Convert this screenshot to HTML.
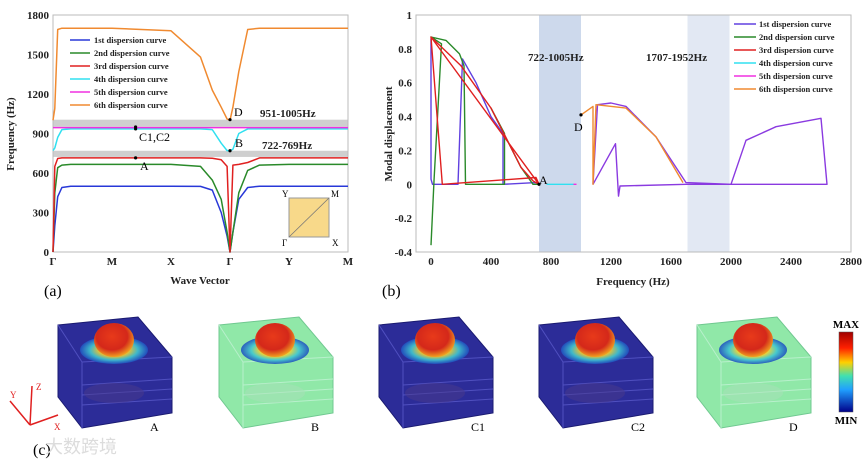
<!DOCTYPE html>
<html><head><meta charset="utf-8"><style>
html,body{margin:0;padding:0;background:#fff;}
svg{display:block;font-family:"Liberation Serif","Noto Serif CJK SC",serif;}
.tk{font-size:11px;font-weight:bold;fill:#222;}
.lg{font-size:8.5px;font-weight:bold;fill:#222;}
</style></head><body>
<svg id="fig" width="865" height="463" viewBox="0 0 865 463" xmlns="http://www.w3.org/2000/svg">
<defs>
<radialGradient id="redBlob" cx="0.45" cy="0.4" r="0.6"><stop offset="0" stop-color="#e83a1a"/><stop offset="0.65" stop-color="#d4281a"/><stop offset="1" stop-color="#f0a020"/></radialGradient>
<radialGradient id="ringBlob" cx="0.5" cy="0.5" r="0.5"><stop offset="0.45" stop-color="#f2d030"/><stop offset="0.7" stop-color="#40c8d0"/><stop offset="1" stop-color="#2050c0"/></radialGradient>
<linearGradient id="cbar" x1="0" y1="0" x2="0" y2="1"><stop offset="0" stop-color="#a00000"/><stop offset="0.2" stop-color="#ff2000"/><stop offset="0.38" stop-color="#ffd000"/><stop offset="0.55" stop-color="#40e0b0"/><stop offset="0.72" stop-color="#20a0ff"/><stop offset="1" stop-color="#00008a"/></linearGradient>
</defs>
<g id="chartA"></g>
<g id="chartB"></g>
<g id="cubes"></g>
</svg>
<script>
const NS="http://www.w3.org/2000/svg";
function mk(parent,tag,attrs,text){const e=document.createElementNS(NS,tag);for(const k in attrs)e.setAttribute(k,attrs[k]);if(text!==undefined)e.textContent=text;parent.appendChild(e);return e;}

// ---------- Chart (a) data ----------
const kPoints=[0,0.03,0.08,0.15,0.3,1,2,2.5,2.7,2.85,2.95,3,3.05,3.15,3.3,3.5,4,5];
const curve1=[0,200,420,490,500,500,500,498,470,300,120,0,150,400,490,500,500,500];
const curve2=[0,450,640,660,665,665,665,650,546,400,150,0,150,450,620,660,665,665];
const curve3=[0,650,710,715,715,715,715,715,712,700,650,0,660,665,680,715,715,715];
const curve4=[770,790,870,930,935,935,935,935,930,826,770,770,780,900,935,935,935,935];
const curve5=[945,945,945,945,945,945,945,945,945,945,945,945,945,945,945,945,945,945];
const curve6=[1000,1090,1690,1700,1700,1700,1680,1480,1230,1100,1010,1000,1100,1370,1690,1700,1700,1700];
const kLabels=["Γ","M","X","Γ","Y","M"];
const freqTicks=[0,300,600,900,1200,1500,1800];
const bandsA=[[951,1005],[722,769]];
const legendNames=["1st dispersion curve","2nd dispersion curve","3rd dispersion curve","4th dispersion curve","5th dispersion curve","6th dispersion curve"];
const colorsA=["#2838d8","#2a8a2a","#e02020","#30e0f0","#f030e0","#f08a30"];

const ax={x0:53,x1:348,y0:252,y1:15};
const kx=k=>ax.x0+k*(ax.x1-ax.x0)/5;
const fy=f=>ax.y0-f*(ax.y0-ax.y1)/1800;
(function(){
const g=document.getElementById('chartA');
bandsA.forEach((b,i)=>{const r=mk(g,'rect',{x:ax.x0,y:fy(b[1]),width:ax.x1-ax.x0,height:fy(b[0])-fy(b[1]),fill:'#cfcfcf'});

});
const fr=mk(g,'rect',{x:ax.x0,y:ax.y1,width:ax.x1-ax.x0,height:ax.y0-ax.y1,fill:'none',stroke:'#bbb','stroke-width':1});


freqTicks.forEach(t=>{const tx=mk(g,'text',{x:ax.x0-4,y:fy(t)+4,'text-anchor':'end',class:'tk'},t);

});
kLabels.forEach((l,i)=>{const tx=mk(g,'text',{x:kx(i),y:265,'text-anchor':'middle',class:'tk'},l);

});
const series=[curve1,curve2,curve3,curve4,curve5,curve6];
series.forEach((s,i)=>{const d=s.map((v,j)=>(j?'L':'M')+kx(kPoints[j]).toFixed(1)+','+fy(v).toFixed(1)).join('');
const p=mk(g,'path',{d:d,fill:'none',stroke:colorsA[i],'stroke-width':1.5,'stroke-linejoin':'round'});

});
legendNames.forEach((n,i)=>{const y=40+i*13;
const l=mk(g,'line',{x1:70,x2:90,y1:y,y2:y,stroke:colorsA[i],'stroke-width':1.5});


const t=mk(g,'text',{x:94,y:y+3,class:'lg'},n);

});
const yt=mk(g,'text',{x:14,y:134,'text-anchor':'middle',class:'tk',transform:'rotate(-90 14 134)'},'Frequency (Hz)');


const xt=mk(g,'text',{x:200,y:284,'text-anchor':'middle',class:'tk'},'Wave Vector');


const pa=mk(g,'text',{x:44,y:296,'font-size':16},'(a)');


[[3,1005],[3,769],[1.4,950],[1.4,935],[1.4,715]].forEach(p=>{const c=mk(g,'circle',{cx:kx(p[0]),cy:fy(p[1]),r:1.6,fill:'#000'});

});
[[234,116,'D'],[235,147,'B'],[139,141,'C1,C2'],[140,170,'A']].forEach(a=>{const t=mk(g,'text',{x:a[0],y:a[1],'font-size':12},a[2]);

});
const b1=mk(g,'text',{x:260,y:117,class:'tk'},'951-1005Hz');


const b2=mk(g,'text',{x:262,y:149,class:'tk'},'722-769Hz');


const ins=mk(g,'g',{});


mk(ins,'rect',{x:289,y:198,width:40,height:39,fill:'#f8d98a',stroke:'#999','stroke-width':1});
mk(ins,'line',{x1:289,y1:237,x2:329,y2:198,stroke:'#777','stroke-width':0.8});
[[282,197,'Y'],[331,197,'M'],[282,246,'Γ'],[332,246,'X']].forEach(a=>mk(ins,'text',{x:a[0],y:a[1],'font-size':9},a[2]));
})();

// ---------- Chart (b) data ----------
const s1Freq=[0,0,10,180,210,300,400,480,480,700,720];
const s1Disp=[0.86,0.03,0,0,0.74,0.6,0.4,0.3,0,0.01,0];
const s2Freq=[0,20,70,0,100,190,220,230,490,490,400,600,680,720];
const s2Disp=[-0.36,0.02,0.83,0.87,0.85,0.77,0.7,0,0,0.3,0.45,0.1,0,0];
const s3Freq=[0,75,700,720,0,200,400,600,680,720];
const s3Disp=[0.87,0,0.04,0,0.87,0.7,0.45,0.1,0.02,0];
const s4Freq=[770,950];
const s4Disp=[0,0];
const s5Freq=[950,970];
const s5Disp=[0,0];
const s6Freq=[1000,1080,1080,1100,1300,1500,1680];
const s6Disp=[0.41,0.46,0,0.47,0.45,0.28,0.01];
const s7Freq=[1080,1110,1200,1300,1500,1700,2000,2100,2300,2600,2640,2000,1700,1260,1250,1230,1080];
const s7Disp=[0,0.47,0.48,0.46,0.28,0.01,0,0.26,0.34,0.39,0,0,0,-0.01,-0.07,0.24,0];
const dispTicks=[1,0.8,0.6,0.4,0.2,0,-0.2,-0.4];
const freqTicksB=[0,400,800,1200,1600,2000,2400,2800];
const bandsB=[[720,1000],[1710,1990]];
const colorsB=["#6040e0","#2a8a2a","#e02020","#30e0f0","#f030e0","#f08a30","#8a3ae0"];

const bx={x0:416,x1:851,y0:252,y1:15,fmin:-100,fmax:2800,dmin:-0.4,dmax:1};
const bxF=f=>bx.x0+(f-bx.fmin)*(bx.x1-bx.x0)/(bx.fmax-bx.fmin);
const byD=d=>bx.y0-(d-bx.dmin)*(bx.y0-bx.y1)/(bx.dmax-bx.dmin);
(function(){
const g=document.getElementById('chartB');
bandsB.forEach((b,i)=>{const r=mk(g,'rect',{x:bxF(b[0]),y:bx.y1,width:bxF(b[1])-bxF(b[0]),height:bx.y0-bx.y1,fill:i?'#e2e8f3':'#cdd9ec'});

});
const fr=mk(g,'rect',{x:bx.x0,y:bx.y1,width:bx.x1-bx.x0,height:bx.y0-bx.y1,fill:'none',stroke:'#bbb','stroke-width':1});


dispTicks.forEach(t=>{const tx=mk(g,'text',{x:bx.x0-4,y:byD(t)+4,'text-anchor':'end',class:'tk'},String(t));

});
freqTicksB.forEach(t=>{const tx=mk(g,'text',{x:bxF(t),y:265,'text-anchor':'middle',class:'tk'},t);

});
const ser=[[s1Freq,s1Disp],[s2Freq,s2Disp],[s3Freq,s3Disp],[s4Freq,s4Disp],[s5Freq,s5Disp],[s6Freq,s6Disp],[s7Freq,s7Disp]];
[6,0,1,2,3,4,5].forEach(i=>{const s=ser[i];const d=s[0].map((f,j)=>(j?'L':'M')+bxF(f).toFixed(1)+','+byD(s[1][j]).toFixed(1)).join('');
const p=mk(g,'path',{d:d,fill:'none',stroke:colorsB[i],'stroke-width':1.4,'stroke-linejoin':'round'});

});
legendNames.forEach((n,i)=>{const y=24+i*13;
const l=mk(g,'line',{x1:734,x2:756,y1:y,y2:y,stroke:colorsB[i],'stroke-width':1.5});


const t=mk(g,'text',{x:759,y:y+3,class:'lg'},n);

});
const yt=mk(g,'text',{x:392,y:134,'text-anchor':'middle',class:'tk',transform:'rotate(-90 392 134)'},'Modal displacement');


const xt=mk(g,'text',{x:633,y:285,'text-anchor':'middle',class:'tk'},'Frequency (Hz)');


const pb=mk(g,'text',{x:382,y:296,'font-size':16},'(b)');


const l1=mk(g,'text',{x:528,y:61,class:'tk'},'722-1005Hz');


const l2=mk(g,'text',{x:646,y:61,class:'tk'},'1707-1952Hz');


[[1000,0.41],[720,0]].forEach(p=>{const c=mk(g,'circle',{cx:bxF(p[0]),cy:byD(p[1]),r:1.6,fill:'#000'});

});
const dl=mk(g,'text',{x:574,y:131,'font-size':12},'D');


const al=mk(g,'text',{x:539,y:184,'font-size':12},'A');


})();

// ---------- Panel (c) ----------
(function(){
const g=document.getElementById('cubes');
const cubes=[[58,'A','#2c2c98'],[219,'B','#90e8a8'],[379,'C1','#2c2c98'],[539,'C2','#2c2c98'],[697,'D','#90e8a8']];
cubes.forEach(c=>{const x=c[0];const grp=mk(g,'g',{transform:'translate('+x+',0)'});


const dark=c[2]==='#2c2c98';
const ln=dark?'#5050c0':'#b8f0cc';
mk(grp,'polygon',{points:'0,325 80,317 114,357 114,413 24,428 0,397',fill:c[2],stroke:dark?'#1a1a70':'#70c890','stroke-width':1});
mk(grp,'line',{x1:24,y1:362,x2:24,y2:428,stroke:ln});
mk(grp,'line',{x1:24,y1:362,x2:114,y2:357,stroke:ln});
mk(grp,'line',{x1:0,y1:325,x2:24,y2:362,stroke:ln});
[385,395,405].forEach(y=>mk(grp,'line',{x1:24,y1:y,x2:114,y2:y-6,stroke:ln}));
mk(grp,'ellipse',{cx:56,cy:350,rx:34,ry:14,fill:'url(#ringBlob)',opacity:0.9});
mk(grp,'ellipse',{cx:56,cy:340,rx:20,ry:17,fill:'url(#redBlob)'});
mk(grp,'ellipse',{cx:56,cy:393,rx:30,ry:10,fill:dark?'#4a3a8a':'#a8e0b8',opacity:0.5});
mk(grp,'text',{x:92,y:431,'font-size':12},c[1]);});
const cb=mk(g,'rect',{x:839,y:332,width:14,height:80,fill:'url(#cbar)',stroke:'#555','stroke-width':0.5});


const mx=mk(g,'text',{x:846,y:328,'text-anchor':'middle','font-size':11,'font-weight':'bold'},'MAX');


const mn=mk(g,'text',{x:846,y:424,'text-anchor':'middle','font-size':11,'font-weight':'bold'},'MIN');


const axg=mk(g,'g',{stroke:'#e02020','stroke-width':1.5,fill:'none'});


mk(axg,'path',{d:'M30,425 L32,386 M30,425 L10,401 M30,425 L58,415'});
mk(g,'text',{x:36,y:390,'font-size':9,fill:'#e02020'},'Z');
mk(g,'text',{x:10,y:398,'font-size':9,fill:'#e02020'},'Y');
mk(g,'text',{x:54,y:430,'font-size':9,fill:'#e02020'},'X');
const pc=mk(g,'text',{x:33,y:455,'font-size':16},'(c)');


const wm=mk(g,'text',{x:45,y:453,'font-size':18,fill:'#dcdcdc','font-family':'"Noto Sans CJK SC",sans-serif'},'大数跨境');


})();
</script>
</body></html>
